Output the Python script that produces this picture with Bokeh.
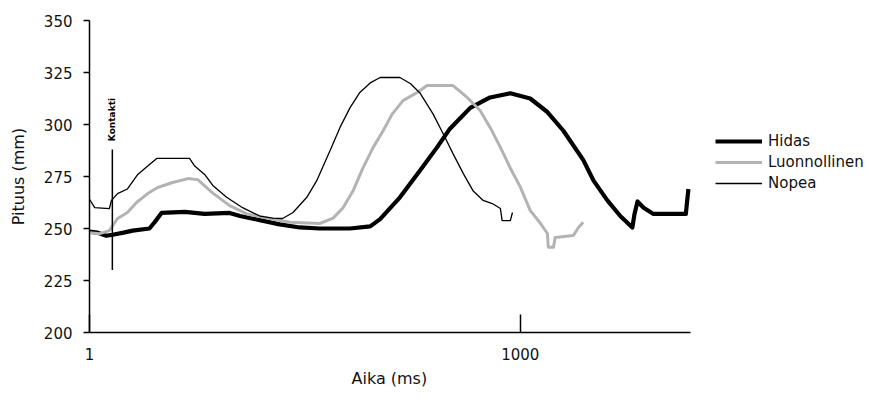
import math
from bokeh.plotting import figure
from bokeh.models import Range1d, FixedTicker, Legend, LegendItem, Title
from bokeh.core.properties import value
from bokeh.embed import file_html
from bokeh.resources import INLINE

# --- data (time in ms, length in mm) ---
hidas_t = [1, 20, 40, 55, 80, 101, 140, 152, 168, 222, 268, 326, 350, 396, 442, 489, 535,
           605, 652, 675, 721, 768, 807, 837, 884, 930, 977, 1023, 1063, 1100, 1146, 1170,
           1202, 1232, 1260, 1265, 1272, 1286, 1309, 1379, 1384, 1390]
hidas_y = [248.5, 248, 246.5, 247, 248, 249, 250, 253, 257.5, 258, 257, 257.5, 256, 254, 252,
           250.5, 250, 250, 251, 254.5, 265, 278, 289, 298, 308, 313, 315, 312.5, 306, 297,
           283, 273, 263.5, 256, 250.5, 257, 263, 260, 257, 257, 257, 269]

luonn_t = [1, 25, 47, 66, 89, 110, 136, 159, 192, 229, 252, 287, 326, 366, 419, 466, 535,
           566, 589, 612, 635, 659, 682, 703, 728, 761, 784, 844, 877, 907, 930, 954, 977,
           1000, 1023, 1047, 1063, 1065, 1077, 1081, 1123, 1135, 1146]
luonn_y = [248, 247.5, 249, 254.8, 257.7, 262.5, 266.8, 269.7, 272, 274, 273.5, 267, 261, 257,
           254.8, 253, 252.4, 255, 260, 268, 279, 289, 297, 305, 311.5, 315.4, 318.7, 318.7,
           313, 306.7, 298.6, 289, 279, 270, 258.7, 252.4, 247.6, 241, 241, 245.7, 246.6,
           250.5, 253]

nopea_t = [1, 13, 47, 52, 66, 89, 113, 136, 157, 233, 245, 268, 287, 319, 356, 396, 426, 449,
           473, 505, 528, 559, 582, 605, 628, 652, 675, 721, 745, 768, 798, 821, 844, 868,
           891, 914, 935, 954, 958, 977, 982]
nopea_y = [264, 260, 259.6, 263.5, 266.8, 269, 276, 280, 283.7, 283.7, 280, 276, 270.7, 265,
           260, 256, 255, 254.8, 257.7, 265, 273, 287.5, 298.6, 308, 315.4, 320, 322.6, 322.6,
           319.7, 315, 305, 295.7, 286, 276.4, 268, 263.5, 262, 259.6, 253.8, 253.8, 257.7]

series_names = ["Hidas", "Luonnollinen", "Nopea"]
contact_t = 54
contact_y = [230, 288]
contact_label = "Kontakti"
x_ticks = [1, 1000]
x_axis_end = 1395
y_ticks = [200, 225, 250, 275, 300, 325, 350]
x_title = "Aika (ms)"
y_title = "Pituus (mm)"

FONT = "DejaVu Sans"
TXT = "#111111"

# frame runs to the right edge so the legend (drawn inside the frame) is not clipped;
# the x axis line itself is limited with bounds
p = figure(width=869, height=404, output_backend="svg", toolbar_location=None,
           x_range=Range1d(1, 1810), y_range=Range1d(200, 350),
           min_border_left=89, min_border_right=0, min_border_top=20, min_border_bottom=72)
p.outline_line_color = None
p.xgrid.visible = False
p.ygrid.visible = False
p.background_fill_color = "white"
p.border_fill_color = "white"

r_h = p.line(hidas_t, hidas_y, line_color="black", line_width=4.2, line_join="round")
r_l = p.line(luonn_t, luonn_y, line_color="#b3b3b3", line_width=3, line_join="round")
r_n = p.line(nopea_t, nopea_y, line_color="black", line_width=1.3)

p.line([contact_t, contact_t], contact_y, line_color="black", line_width=1.5)
p.text(x=[contact_t], y=[292], text=[contact_label], angle=math.pi / 2,
       text_align="left", text_baseline="middle", text_font=value(FONT),
       text_font_size="9px", text_font_style="bold", text_color="black")

# axes
xa = p.xaxis[0]
xa.bounds = (1, x_axis_end)
xa.ticker = FixedTicker(ticks=x_ticks)
xa.minor_tick_line_color = None
xa.major_tick_in = 18
xa.major_tick_out = 0
xa.major_tick_line_width = 1.5
xa.axis_line_width = 1.5
xa.major_label_standoff = 15
xa.major_label_text_font = FONT
xa.major_label_text_font_size = "15px"
xa.major_label_text_color = TXT

# x axis title, centred under the visible axis line (not under the wider frame)
xt = Title(text=x_title, align="left", offset=262, standoff=9,
           text_font=FONT, text_font_size="16px", text_font_style="normal",
           text_color=TXT)
p.add_layout(xt, "below")

ya = p.yaxis[0]
ya.ticker = FixedTicker(ticks=y_ticks)
ya.minor_tick_line_color = None
ya.major_tick_in = 0
ya.major_tick_out = 6
ya.major_tick_line_width = 1.5
ya.axis_line_width = 1.5
ya.major_label_standoff = 11
ya.major_label_text_font = FONT
ya.major_label_text_font_size = "15px"
ya.major_label_text_color = TXT
ya.axis_label = y_title
ya.axis_label_text_font = FONT
ya.axis_label_text_font_size = "16px"
ya.axis_label_text_font_style = "normal"
ya.axis_label_text_color = TXT
ya.axis_label_standoff = 13

legend = Legend(items=[LegendItem(label=series_names[0], renderers=[r_h]),
                       LegendItem(label=series_names[1], renderers=[r_l]),
                       LegendItem(label=series_names[2], renderers=[r_n])],
                location=(626, 139), padding=0, margin=0, spacing=1,
                glyph_width=47, glyph_height=20, label_height=20, label_standoff=6,
                label_text_font=FONT, label_text_font_size="15px", label_text_color=TXT,
                border_line_color=None, background_fill_alpha=0)
p.add_layout(legend)

open("out.html", "w").write(file_html(p, INLINE))
